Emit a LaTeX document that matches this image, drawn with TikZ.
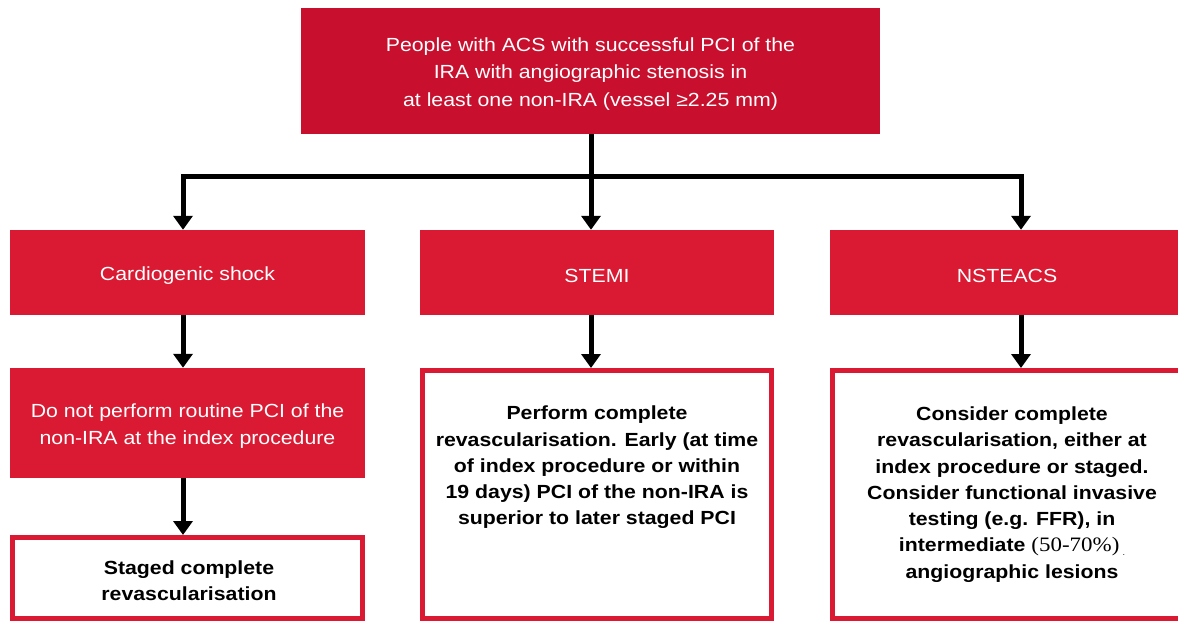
\documentclass[tikz,border=0pt]{standalone}
\usepackage{fontspec}
\setmainfont{Liberation Sans}[FakeStretch=1.12]
\newfontfamily\serifnum{Liberation Serif}[FakeStretch=1.12]
\usetikzlibrary{arrows.meta,positioning}
\definecolor{topred}{RGB}{200,16,46}
\definecolor{boxred}{RGB}{218,26,50}
\tikzset{
  redbox/.style={rectangle,fill=boxred,draw=none,inner sep=0pt},
  redtxt/.style={text=white,align=center,inner sep=0pt,font=\fontsize{19}{27.3}\selectfont},
  whitebox/.style={rectangle,fill=white,draw=boxred,line width=5pt,inner sep=0pt},
  boldtxt/.style={align=center,inner sep=0pt,font=\fontsize{19}{26.3}\selectfont\bfseries,text=black},
  conn/.style={line width=5pt,line join=miter,-{Triangle[width=19pt,length=14pt]}},
  plainline/.style={line width=5pt,line join=miter},
}
\begin{document}
\begin{tikzpicture}[x=1pt,y=-1pt]
\useasboundingbox (0,0) rectangle (1178,621);
\clip (0,0) rectangle (1178,621);
\fill[white] (0,0) rectangle (1178,621);
% top
\node[redbox,fill=topred,minimum width=579pt,minimum height=126pt] (top) at (590.5,71) {};
\node[redtxt] (toptxt) at ([yshift=-3pt]top.center)
  {People with ACS with successful PCI of the\\IRA with angiographic stenosis in\\at least one non-IRA (vessel \char"2265 2.25 mm)};
% row 2
\node[redbox,minimum width=355pt,minimum height=85pt] (cs) at (187.5,272.5) {};
\node[redtxt] (cstxt) at ([yshift=-3pt]cs.center) {Cardiogenic shock};
\node[redbox,minimum width=354pt,minimum height=85pt] (stemi) at (597,272.5) {};
\node[redtxt] (stemitxt) at ([yshift=-3pt]stemi.center) {STEMI};
\node[redbox,minimum width=360pt,minimum height=85pt] (nste) at (1010,272.5) {};
\node[redtxt] (nstetxt) at ([yshift=-3pt,xshift=-3pt]nste.center) {NSTEACS};
% row 3
\node[redbox,minimum width=355pt,minimum height=110pt] (dont) at (187.5,423) {};
\node[redtxt] (donttxt) at ([yshift=-3pt]dont.center)
  {Do not perform routine PCI of the\\non-IRA at the index procedure};
\node[whitebox,minimum width=349pt,minimum height=248pt] (perform) at (597,494.5) {};
\node[boldtxt] (performtxt) at (597,467.5) {Perform complete\\revascularisation. Early (at time\\of index procedure or within\\19 days) PCI of the non-IRA is\\superior to later staged PCI};
\node[whitebox,minimum width=355pt,minimum height=248pt] (consider) at (1010,494.5) {};
\node[boldtxt] (considertxt) at (1012,494.5) {Consider complete\\revascularisation, either at\\index procedure or staged.\\Consider functional invasive\\testing (e.g. FFR), in\\intermediate {\mdseries\serifnum\fontsize{20.5}{26.3}\selectfont(50-70\%)}\,\raisebox{-4pt}{\mdseries\fontsize{8}{8}\selectfont.}\\angiographic lesions};
% row 4
\node[whitebox,minimum width=350pt,minimum height=81pt] (staged) at (187.5,578) {};
\node[boldtxt] (stagedtxt) at (189,581) {Staged complete\\revascularisation};
% connectors
\coordinate (j) at (591,176);
\draw[plainline] (top.south -| j) -- (j);
\draw[conn] ([xshift=4pt]j) -| ([xshift=-4.5pt]cs.north);
\draw[conn] (j) -- (stemi.north -| j);
\draw[conn] ([xshift=-4pt]j) -| ([xshift=11pt]nste.north);
\draw[conn] ([xshift=-4.5pt]cs.south) -- ([xshift=-4.5pt]dont.north);
\draw[conn] ([xshift=-6pt]stemi.south) -- ([xshift=-6pt]perform.north);
\draw[conn] ([xshift=11pt]nste.south) -- ([xshift=11pt]consider.north);
\draw[conn] ([xshift=-4.5pt]dont.south) -- ([xshift=-4.5pt]staged.north);
\end{tikzpicture}
\end{document}
